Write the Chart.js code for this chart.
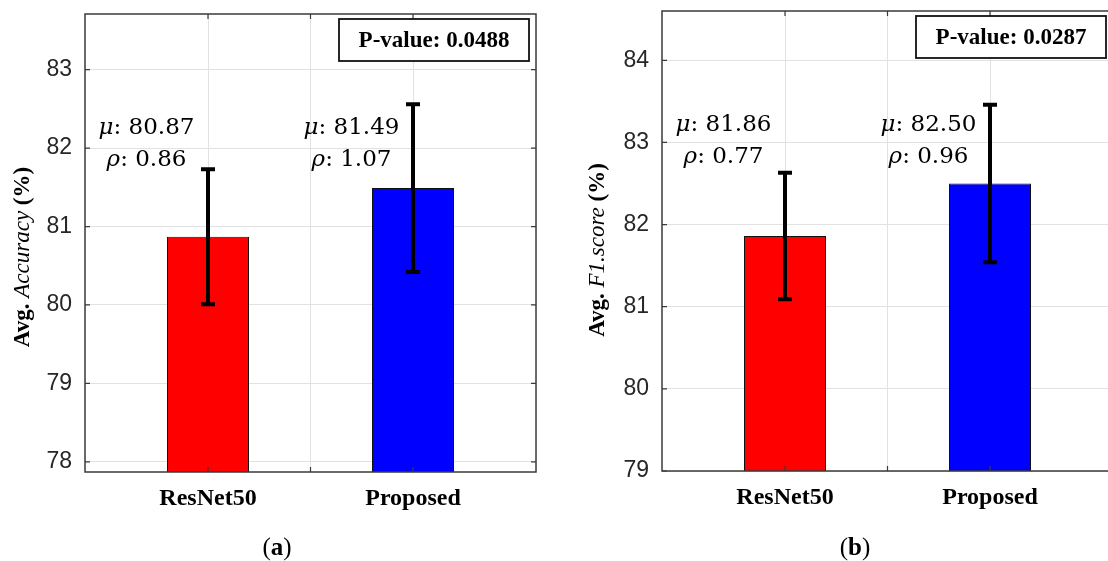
<!DOCTYPE html>
<html>
<head>
<meta charset="utf-8">
<script src="https://cdn.jsdelivr.net/npm/chart.js@4.4.1/dist/chart.umd.min.js"></script>
<style>
  html, body { margin: 0; padding: 0; background: #fff; overflow: hidden; }
  #wrap { position: relative; width: 1108px; height: 561px; overflow: hidden; background: #fff; }
  .panel { position: absolute; top: 0; height: 561px; }
  #pa { left: 0; width: 554px; }
  #pb { left: 554px; width: 580px; }
  .cap { position: absolute; top: 532px; font-family: 'Liberation Serif', serif; font-size: 25px;
         line-height: 30px; color: #000; transform: translateX(-50%); white-space: nowrap; }
</style>
</head>
<body>
<div id="wrap">
  <div class="panel" id="pa"><canvas id="ca" width="554" height="561" style="width:554px;height:561px"></canvas></div>
  <div class="panel" id="pb"><canvas id="cb" width="580" height="561" style="width:580px;height:561px"></canvas></div>
  <div class="cap" style="left:277px">(<b>a</b>)</div>
  <div class="cap" style="left:855px">(<b>b</b>)</div>
</div>
<script>
// ---- data ----
const categories = ['ResNet50', 'Proposed'];
const catPositions = [1, 2];
const accuracyMean = [80.87, 81.49];
const accuracyStd = [0.86, 1.07];
const f1Mean = [81.86, 82.50];
const f1Std = [0.77, 0.96];
const accuracyPValue = 0.0488;
const f1PValue = 0.0287;
const accuracyTicks = [78, 79, 80, 81, 82, 83];
const f1Ticks = [79, 80, 81, 82, 83, 84];
const xTicks = [1, 1.5, 2];
const barColors = ['#ff0000', '#0000ff'];

// ---- styling ----
const FRAME = '#3a3a3a';
const GRID = '#e2e2e2';
const SERIF = "'Liberation Serif', 'Times New Roman', serif";
const MATHF = "'DejaVu Serif', serif";

function drawRichRun(ctx, parts, x, y) {
  // parts: [{text, font}] drawn left-to-right starting at x
  let cx = x;
  for (const p of parts) {
    ctx.font = p.font;
    ctx.fillText(p.text, cx, y);
    cx += ctx.measureText(p.text).width;
  }
}
function runWidth(ctx, parts) {
  let w = 0;
  for (const p of parts) { ctx.font = p.font; w += ctx.measureText(p.text).width; }
  return w;
}

function decorPlugin(cfg) {
  return {
    id: 'decor_' + cfg.id,
    afterDatasetsDraw(chart) {
      const ctx = chart.ctx;
      const xs = chart.scales.x, ys = chart.scales.y;
      const a = chart.chartArea;
      ctx.save();

      // error bars: mean ± std
      ctx.strokeStyle = '#000';
      ctx.lineWidth = 4;
      ctx.lineCap = 'butt';
      cfg.mean.forEach((m, i) => {
        const x = xs.getPixelForValue(catPositions[i]);
        const yt = ys.getPixelForValue(m + cfg.std[i]);
        const yb = ys.getPixelForValue(m - cfg.std[i]);
        ctx.beginPath();
        ctx.moveTo(x, yt); ctx.lineTo(x, yb);
        ctx.moveTo(x - 7, yt); ctx.lineTo(x + 7, yt);
        ctx.moveTo(x - 7, yb); ctx.lineTo(x + 7, yb);
        ctx.stroke();
      });

      // axes box
      ctx.strokeStyle = FRAME;
      ctx.lineWidth = 1.5;
      ctx.strokeRect(a.left, a.top, a.right - a.left, a.bottom - a.top);

      // inward tick marks
      ctx.lineWidth = 1.2;
      ctx.beginPath();
      ys.ticks.forEach(t => {
        const y = ys.getPixelForValue(t.value);
        ctx.moveTo(a.left, y); ctx.lineTo(a.left + 5, y);
        ctx.moveTo(a.right, y); ctx.lineTo(a.right - 5, y);
      });
      xs.ticks.forEach(t => {
        const x = xs.getPixelForValue(t.value);
        ctx.moveTo(x, a.bottom); ctx.lineTo(x, a.bottom - 5);
        ctx.moveTo(x, a.top); ctx.lineTo(x, a.top + 5);
      });
      ctx.stroke();

      // mean / std annotations above each bar
      ctx.fillStyle = '#000';
      ctx.textBaseline = 'alphabetic';
      ctx.textAlign = 'left';
      cfg.mean.forEach((m, i) => {
        const cx = xs.getPixelForValue(catPositions[i] - 0.30);
        const l1 = [{ text: 'μ', font: `italic 23px ${MATHF}` }, { text: ': ' + m.toFixed(2), font: `23px ${MATHF}` }];
        const l2 = [{ text: 'ρ', font: `italic 23px ${MATHF}` }, { text: ': ' + cfg.std[i].toFixed(2), font: `23px ${MATHF}` }];
        drawRichRun(ctx, l1, cx - runWidth(ctx, l1) / 2, a.top + 120);
        drawRichRun(ctx, l2, cx - runWidth(ctx, l2) / 2, a.top + 152);
      });

      // p-value box
      const bw = 190, bh = 42;
      const bx = a.right - 7 - bw, by = a.top + 5;
      ctx.fillStyle = '#fff';
      ctx.fillRect(bx, by, bw, bh);
      ctx.strokeStyle = '#111';
      ctx.lineWidth = 1.8;
      ctx.strokeRect(bx, by, bw, bh);
      ctx.fillStyle = '#000';
      ctx.font = `bold 23px ${SERIF}`;
      ctx.textAlign = 'center';
      ctx.textBaseline = 'middle';
      ctx.fillText('P-value: ' + cfg.pValue.toFixed(4), bx + bw / 2, by + bh / 2 + 1);

      // y-axis title with italic metric name
      ctx.save();
      ctx.translate(a.left - cfg.titleOffset, cfg.titleY);
      ctx.rotate(-Math.PI / 2);
      ctx.textAlign = 'left';
      ctx.textBaseline = 'middle';
      const tparts = [
        { text: 'Avg. ', font: `bold 23px ${SERIF}` },
        { text: cfg.metric, font: `italic 23px ${SERIF}` },
        { text: ' (%)', font: `bold 23px ${SERIF}` }
      ];
      drawRichRun(ctx, tparts, -runWidth(ctx, tparts) / 2, 0);
      ctx.restore();

      ctx.restore();
    }
  };
}

function makePanel(cfg) {
  const points = cfg.mean.map((m, i) => ({ x: catPositions[i], y: m }));
  return new Chart(document.getElementById(cfg.canvas), {
    type: 'bar',
    data: {
      datasets: [{
        data: points,
        backgroundColor: barColors,
        borderColor: '#111',
        borderWidth: 1,
        borderSkipped: false,
        barPercentage: 0.8,      // ticks are every 0.5 → bars 0.4 units wide
        categoryPercentage: 1
      }]
    },
    options: {
      responsive: false,
      animation: false,
      events: [],
      layout: { padding: { left: 0, top: cfg.padTop, right: cfg.padRight, bottom: 0 } },
      plugins: { legend: { display: false }, tooltip: { enabled: false } },
      scales: {
        x: {
          type: 'linear',
          min: 0.4, max: 2.6,
          offset: false,
          afterBuildTicks: s => { s.ticks = xTicks.map(v => ({ value: v })); },
          afterFit: s => { s.height = cfg.xHeight; s.paddingLeft = 0; s.paddingRight = 0; },
          grid: { color: GRID, lineWidth: 1, drawTicks: false, offset: false },
          border: { display: false },
          ticks: {
            autoSkip: false, maxRotation: 0, minRotation: 0, padding: 12,
            color: '#000',
            font: { family: SERIF, size: 24, weight: 'bold' },
            callback: v => { const k = catPositions.indexOf(v); return k < 0 ? '' : categories[k]; }
          }
        },
        y: {
          type: 'linear',
          min: cfg.yMin, max: cfg.yMax,
          beginAtZero: false,
          afterBuildTicks: s => { s.ticks = cfg.yTicks.map(v => ({ value: v })); },
          afterFit: s => { s.width = cfg.yWidth; s.paddingTop = 0; s.paddingBottom = 0; },
          grid: { color: GRID, lineWidth: 1, drawTicks: false },
          border: { display: false },
          ticks: {
            padding: 13,
            color: '#262626',
            font: { family: "'Liberation Sans', Arial, sans-serif", size: 23 },
            callback: v => String(v)
          }
        }
      }
    },
    plugins: [decorPlugin(cfg)]
  });
}

makePanel({
  id: 'acc', canvas: 'ca',
  mean: accuracyMean, std: accuracyStd, pValue: accuracyPValue,
  yMin: 77.87, yMax: 83.71, yTicks: accuracyTicks,
  metric: 'Accuracy',
  padTop: 14, padRight: 18, yWidth: 85, xHeight: 89,
  titleOffset: 62, titleY: 257
});

makePanel({
  id: 'f1', canvas: 'cb',
  mean: f1Mean, std: f1Std, pValue: f1PValue,
  yMin: 79, yMax: 84.6, yTicks: f1Ticks,
  metric: 'F1.score',
  padTop: 11, padRight: 21, yWidth: 108, xHeight: 90,
  titleOffset: 64, titleY: 250
});
</script>
</body>
</html>
